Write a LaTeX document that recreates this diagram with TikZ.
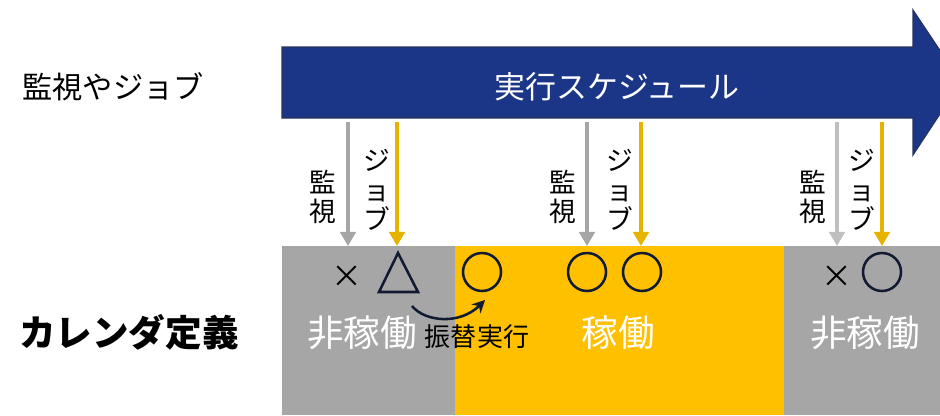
\documentclass[tikz,border=0pt]{standalone}
\usepackage{xcolor}
\usepackage{fontspec}
\setmainfont{Noto Sans CJK JP}
\usepackage{tikz}
\usetikzlibrary{arrows.meta, positioning}

\definecolor{schednavy}{HTML}{1C3687}
\definecolor{schedline}{HTML}{26335E}
\definecolor{offgray}{HTML}{A6A6A6}
\definecolor{lightgray}{HTML}{BFBFBF}
\definecolor{onyellow}{HTML}{FFC000}
\definecolor{jobgold}{HTML}{E6B400}
\definecolor{symnavy}{HTML}{121A33}

\tikzset{
    monarrow/.style={line width=2.4pt, -{Triangle[length=10pt, width=11pt]}},
    vlabel/.style={align=center, inner sep=0pt, font=\fontsize{19}{21}\selectfont},
    sym/.style={draw=symnavy, line width=1.8pt},
    blocklabel/.style={text=white, font=\fontsize{26}{30}\selectfont},
}

\begin{document}
\begin{tikzpicture}[x=0.025cm, y=-0.025cm]
    \clip (0,0) rectangle (940,415);
    % calendar blocks
    \fill[offgray] (282,246) rectangle (455,415);
    \fill[onyellow] (455,246) rectangle (784,415);
    \fill[offgray] (784,246) rectangle (940,415);
    % schedule arrow
    \filldraw[fill=schednavy, draw=schedline, line width=0.8pt]
        (282,47) -- (913,47) -- (913,10) -- (961,82) -- (913,155) -- (913,118) -- (282,118) -- cycle;
    \node[text=white, font=\fontsize{22}{26}\selectfont] (sched) at (617,87) {実行スケジュール};
    % row labels
    \node[font=\fontsize{21.5}{26}\selectfont] (watch) at (113,87) {監視やジョブ};
    \node[font=\fontsize{26}{30}\selectfont\bfseries] (cal) at (129,332) {カレンダ定義};
    % monitoring and job arrows
    \foreach \i/\mx/\jx/\mc in {1/348/397/offgray, 2/587/641/offgray, 3/837/882/lightgray} {
        \coordinate (mtop\i) at (\mx,122);
        \coordinate (mbot\i) at (\mx,246);
        \coordinate (jtop\i) at (\jx,122);
        \coordinate (jbot\i) at (\jx,246);
        \draw[monarrow, \mc] (mtop\i) -- (mbot\i);
        \draw[monarrow, jobgold] (jtop\i) -- (jbot\i);
    }
    \node[vlabel] (mon1) at (323,197) {監\\視};
    \node[vlabel] (job1) at (377,190) {ジ\\ョ\\ブ};
    \node[vlabel] (mon2) at (563,197) {監\\視};
    \node[vlabel] (job2) at (620,190) {ジ\\ョ\\ブ};
    \node[vlabel] (mon3) at (813,197) {監\\視};
    \node[vlabel] (job3) at (862,190) {ジ\\ョ\\ブ};
    % results
    \node[font=\fontsize{22}{24}\selectfont] (x1) at (347,277) {×};
    \draw[sym, line join=miter] (379,292) -- (398,253) -- (418,292) -- cycle;
    \draw[sym] (482,272) circle (19);
    \draw[sym] (587,272) circle (19);
    \draw[sym] (642,272) circle (19);
    \node[font=\fontsize{22}{24}\selectfont] (x3) at (837,277) {×};
    \draw[sym] (882,272) circle (19);
    % rescheduled run
    \draw[symnavy, line width=1.8pt, -{Stealth[length=9pt, width=9pt]}]
        (412,306) .. controls (425,322) and (460,325) .. (485,300);
    \node[font=\fontsize{18.5}{22}\selectfont] (shift) at (477,337) {振替実行};
    % calendar labels
    \node[blocklabel] (off1) at (362,333) {非稼働};
    \node[blocklabel] (on) at (618,333) {稼働};
    \node[blocklabel] (off2) at (865,333) {非稼働};
\end{tikzpicture}
\end{document}
